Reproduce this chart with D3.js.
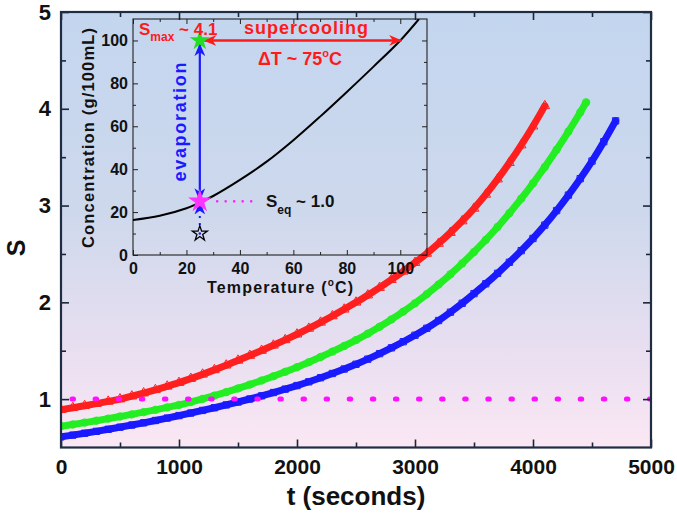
<!DOCTYPE html>
<html><head><meta charset="utf-8">
<script src="https://cdn.jsdelivr.net/npm/d3@7"></script>
<style>body{margin:0;background:#fff} svg{display:block;font-family:"Liberation Sans",Arial,sans-serif}</style>
</head><body><svg id="c" width="677" height="516"></svg>
<script>
// ---------- data ----------
const tSec = [0,100,200,300,400,500,600,700,800,900,1000,1100,1200,1300,1400,1500,1600,1700,1800,1900,2000,2100,2200,2300,2400,2500,2600,2700,2800,2900,3000,3100,3200,3300,3400,3500,3600,3700,3800,3900,4000,4100,4200,4300,4400,4500,4600,4700];
const redS = [0.890,0.910,0.931,0.953,0.976,1.000,1.030,1.062,1.096,1.132,1.170,1.212,1.256,1.302,1.350,1.400,1.450,1.502,1.556,1.612,1.670,1.730,1.793,1.859,1.928,2.000,2.074,2.152,2.234,2.320,2.410,2.505,2.608,2.720,2.840,2.970,3.115,3.273,3.443,3.625,3.820,4.030];
const greenS = [0.720,0.738,0.757,0.777,0.798,0.820,0.842,0.865,0.889,0.914,0.940,0.970,1.002,1.036,1.072,1.110,1.150,1.192,1.236,1.282,1.330,1.381,1.435,1.491,1.549,1.610,1.676,1.747,1.823,1.903,1.990,2.084,2.184,2.290,2.402,2.520,2.645,2.779,2.921,3.071,3.230,3.398,3.576,3.764,3.962,4.066];
const greenT = tSec.slice(0,45).concat([4450]);
const blueS = [0.610,0.628,0.647,0.667,0.688,0.710,0.732,0.755,0.779,0.804,0.830,0.856,0.883,0.911,0.940,0.970,1.001,1.034,1.068,1.103,1.140,1.179,1.221,1.265,1.311,1.360,1.413,1.470,1.530,1.593,1.660,1.732,1.812,1.898,1.990,2.090,2.192,2.300,2.414,2.534,2.660,2.798,2.948,3.108,3.278,3.460,3.660,3.875];
const sEq = 1.0;
const xTicks = [0,1000,2000,3000,4000,5000];
const xMinor = [500,1500,2500,3500,4500];
const yTicks = [1,2,3,4,5];
const yMinor = [1.5,2.5,3.5,4.5];
// inset: solubility curve
const tempC = [0,10,20,25,30,40,50,60,70,80,90,100,107];
const solubility = [16.3,18.3,21.8,24.5,27.5,35,43.5,53.5,64.5,76.0,87.8,100,110];
const insetTicks = [0,20,40,60,80,100];
const insetMinor = [10,30,50,70,90];
const roomT = 25, cEq = 25, cMax = 100, cStart = 10, tSuper = 100;

// ---------- setup ----------
const svg = d3.select('#c');
const defs = svg.append('defs');
const grad = defs.append('linearGradient').attr('id','bg').attr('x1',0).attr('y1',0).attr('x2',0).attr('y2',1);
[['0%','#c3d6ef'],['45%','#cdd8ec'],['75%','#e6def0'],['100%','#fbe7f4']].forEach(([o,c])=>grad.append('stop').attr('offset',o).attr('stop-color',c));

const x = d3.scaleLinear().domain([0,5000]).range([61,651]);
const y = d3.scaleLinear().domain([0.5,5]).range([447.5,12]);

defs.append('clipPath').attr('id','clipMain').append('rect')
  .attr('x',x(0)).attr('y',y(5)).attr('width',x(5000)-x(0)).attr('height',y(0.5)-y(5));

svg.append('rect').attr('x',x(0)).attr('y',y(5)).attr('width',x(5000)-x(0)).attr('height',y(0.5)-y(5)).attr('fill','url(#bg)');

// arrow markers
function mk(id,color){
  defs.append('marker').attr('id',id).attr('viewBox','0 0 12 10').attr('refX',11.5).attr('refY',5)
    .attr('markerWidth',13).attr('markerHeight',11).attr('markerUnits','userSpaceOnUse')
    .attr('orient','auto-start-reverse')
    .append('path').attr('d','M0,0 L12,5 L0,10 L3.5,5 Z').attr('fill',color);
}
mk('arrR','#ff1a1a'); mk('arrB','#1a1aff');

// ---------- main series ----------
const main = svg.append('g').attr('clip-path','url(#clipMain)');
const series = [
  {t:tSec.slice(0,redS.length), s:redS, color:'#ff1f1f', sym:d3.symbolTriangle, size:40},
  {t:greenT, s:greenS, color:'#22ee22', sym:d3.symbolCircle, size:44},
  {t:tSec.slice(0,blueS.length), s:blueS, color:'#1a1aff', sym:d3.symbolSquare, size:40}
];
const line = d3.line().x(d=>x(d[0])).y(d=>y(d[1])).curve(d3.curveMonotoneX);
series.forEach(se=>{
  const pts = se.t.map((t,i)=>[t,se.s[i]]);
  main.append('path').datum(pts).attr('d',line).attr('fill','none')
    .attr('stroke',se.color).attr('stroke-width',7).attr('stroke-linecap','round');
  main.selectAll(null).data(pts).enter().append('path')
    .attr('d',d3.symbol(se.sym,se.size))
    .attr('transform',d=>`translate(${x(d[0])},${y(d[1])})`)
    .attr('fill','none').attr('stroke',se.color).attr('stroke-width',1);
});

// S = 1 dotted line
main.append('line').attr('x1',x(0)).attr('x2',x(5000)).attr('y1',y(sEq)).attr('y2',y(sEq))
  .attr('stroke','#ff10ff').attr('stroke-width',5).attr('stroke-linecap','round')
  .attr('stroke-dasharray','1.5 21.6').attr('stroke-dashoffset',-11);

// ---------- main axes ----------
const axCol = '#1c2636';
function styleAxis(g, fs){
  g.select('.domain').remove();
  g.selectAll('line').attr('stroke',axCol).attr('stroke-width',1.6);
  g.selectAll('text').attr('font-size',fs).attr('font-weight','bold').attr('fill','#111')
    .attr('font-family','"Liberation Sans",Arial,sans-serif');
}
styleAxis(svg.append('g').attr('transform',`translate(0,${y(0.5)})`)
  .call(d3.axisBottom(x).tickValues(xTicks).tickSize(-8).tickPadding(12).tickFormat(d3.format('d'))), 21);
styleAxis(svg.append('g').attr('transform',`translate(0,${y(0.5)})`)
  .call(d3.axisBottom(x).tickValues(xMinor).tickSize(-5).tickFormat('')), 21);
styleAxis(svg.append('g').attr('transform',`translate(0,${y(5)})`)
  .call(d3.axisTop(x).tickValues(xTicks).tickSize(-8).tickFormat('')), 21);
styleAxis(svg.append('g').attr('transform',`translate(0,${y(5)})`)
  .call(d3.axisTop(x).tickValues(xMinor).tickSize(-5).tickFormat('')), 21);
styleAxis(svg.append('g').attr('transform',`translate(${x(0)},0)`)
  .call(d3.axisLeft(y).tickValues(yTicks).tickSize(-8).tickPadding(10).tickFormat(d3.format('d'))), 22);
styleAxis(svg.append('g').attr('transform',`translate(${x(0)},0)`)
  .call(d3.axisLeft(y).tickValues(yMinor).tickSize(-5).tickFormat('')), 22);
styleAxis(svg.append('g').attr('transform',`translate(${x(5000)},0)`)
  .call(d3.axisRight(y).tickValues(yTicks).tickSize(-8).tickFormat('')), 22);
styleAxis(svg.append('g').attr('transform',`translate(${x(5000)},0)`)
  .call(d3.axisRight(y).tickValues(yMinor).tickSize(-5).tickFormat('')), 22);

svg.append('rect').attr('x',x(0)).attr('y',y(5)).attr('width',x(5000)-x(0)).attr('height',y(0.5)-y(5))
  .attr('fill','none').attr('stroke','#1f2d44').attr('stroke-width',2.2);

svg.append('text').attr('x',(x(0)+x(5000))/2).attr('y',505).attr('text-anchor','middle')
  .attr('font-size',26).attr('font-weight','bold').attr('fill','#111').text('t (seconds)');
svg.append('text').attr('transform','translate(25,248) rotate(-90)').attr('text-anchor','middle')
  .attr('font-size',25).attr('font-weight','bold').attr('fill','#111').text('S');

// ---------- inset ----------
const xi = d3.scaleLinear().domain([0,110]).range([133,427]);
const yi = d3.scaleLinear().domain([0,110]).range([255,19]);
defs.append('clipPath').attr('id','clipIn').append('rect')
  .attr('x',xi(0)).attr('y',yi(110)).attr('width',xi(110)-xi(0)).attr('height',yi(0)-yi(110));
const ins = svg.append('g');

function styleIn(g){
  g.select('.domain').remove();
  g.selectAll('line').attr('stroke','#222').attr('stroke-width',1);
  g.selectAll('text').attr('font-size',16).attr('font-weight','bold').attr('fill','#111')
    .attr('font-family','"Liberation Sans",Arial,sans-serif');
}
styleIn(ins.append('g').attr('transform',`translate(0,${yi(0)})`)
  .call(d3.axisBottom(xi).tickValues(insetTicks).tickSize(-5).tickPadding(8)));
styleIn(ins.append('g').attr('transform',`translate(0,${yi(0)})`)
  .call(d3.axisBottom(xi).tickValues(insetMinor).tickSize(-3).tickFormat('')));
styleIn(ins.append('g').attr('transform',`translate(0,${yi(110)})`)
  .call(d3.axisTop(xi).tickValues(insetTicks).tickSize(-5).tickFormat('')));
styleIn(ins.append('g').attr('transform',`translate(0,${yi(110)})`)
  .call(d3.axisTop(xi).tickValues(insetMinor).tickSize(-3).tickFormat('')));
styleIn(ins.append('g').attr('transform',`translate(${xi(0)},0)`)
  .call(d3.axisLeft(yi).tickValues(insetTicks).tickSize(-5).tickPadding(5)));
styleIn(ins.append('g').attr('transform',`translate(${xi(0)},0)`)
  .call(d3.axisLeft(yi).tickValues(insetMinor).tickSize(-3).tickFormat('')));
styleIn(ins.append('g').attr('transform',`translate(${xi(110)},0)`)
  .call(d3.axisRight(yi).tickValues(insetTicks).tickSize(-5).tickFormat('')));
styleIn(ins.append('g').attr('transform',`translate(${xi(110)},0)`)
  .call(d3.axisRight(yi).tickValues(insetMinor).tickSize(-3).tickFormat('')));
ins.append('rect').attr('x',xi(0)).attr('y',yi(110)).attr('width',xi(110)-xi(0)).attr('height',yi(0)-yi(110))
  .attr('fill','none').attr('stroke','#222').attr('stroke-width',1.1);

const lineIn = d3.line().x((d,i)=>xi(tempC[i])).y(d=>yi(d)).curve(d3.curveCatmullRom);
ins.append('path').datum(solubility).attr('d',lineIn).attr('clip-path','url(#clipIn)')
  .attr('fill','none').attr('stroke','#000').attr('stroke-width',2);

// inset axis titles
const tl = ins.append('text').attr('x',(xi(0)+xi(110))/2).attr('y',293).attr('text-anchor','middle')
  .attr('font-size',16).attr('font-weight','bold').attr('fill','#111').attr('textLength',146).attr('lengthAdjust','spacing');
tl.append('tspan').text('Temperature (');
tl.append('tspan').attr('font-size',10).attr('dy',-7).text('o');
tl.append('tspan').attr('dy',7).text('C)');
ins.append('text').attr('transform','translate(94,138) rotate(-90)').attr('text-anchor','middle')
  .attr('font-size',16.5).attr('font-weight','bold').attr('fill','#111')
  .attr('textLength',220).attr('lengthAdjust','spacing').text('Concentration (g/100mL)');

// arrows
ins.append('line').attr('x1',xi(roomT)).attr('x2',xi(roomT)).attr('y1',yi(cEq+0.3)).attr('y2',yi(cMax-1.5))
  .attr('stroke','#1a1aff').attr('stroke-width',2.2)
  .attr('marker-start','url(#arrB)').attr('marker-end','url(#arrB)');
ins.append('line').attr('x1',xi(roomT)).attr('x2',xi(roomT)).attr('y1',yi(cStart+4)).attr('y2',yi(cEq-0.3))
  .attr('stroke','#1a1aff').attr('stroke-width',2).attr('stroke-dasharray','2 5')
  .attr('marker-end','url(#arrB)');
ins.append('line').attr('x1',xi(roomT+1.5)).attr('x2',xi(tSuper+0.5)).attr('y1',yi(cMax)).attr('y2',yi(cMax))
  .attr('stroke','#ff1a1a').attr('stroke-width',2.4)
  .attr('marker-start','url(#arrR)').attr('marker-end','url(#arrR)');
// magenta dotted from S_eq point
ins.append('line').attr('x1',xi(31.5)).attr('x2',xi(47)).attr('y1',yi(cEq)).attr('y2',yi(cEq))
  .attr('stroke','#ff22ff').attr('stroke-width',2.6).attr('stroke-linecap','round').attr('stroke-dasharray','0 8.5');

// stars
ins.append('path').attr('d',d3.symbol(d3.symbolStar,70)).attr('transform',`translate(${xi(roomT)},${yi(cStart)})`)
  .attr('fill','none').attr('stroke','#000').attr('stroke-width',1.3);
ins.append('circle').attr('cx',xi(roomT)).attr('cy',yi(cStart)).attr('r',1.3).attr('fill','#1a1aff');
ins.append('path').attr('d',d3.symbol(d3.symbolStar,170)).attr('transform',`translate(${xi(roomT)},${yi(cEq)})`)
  .attr('fill','#ff33ff');
ins.append('path').attr('d',d3.symbol(d3.symbolStar,130)).attr('transform',`translate(${xi(roomT)},${yi(cMax)})`)
  .attr('fill','#22dd22');

// annotations
const sm = ins.append('text').attr('x',139).attr('y',35).attr('fill','#ff1a1a').attr('font-weight','bold').attr('font-size',17);
sm.append('tspan').text('S');
sm.append('tspan').attr('font-size',12).attr('dy',6).text('max');
sm.append('tspan').attr('dy',-6).text(' ~ 4.1');
ins.append('text').attr('x',244).attr('y',34).attr('fill','#ff1a1a').attr('font-weight','bold').attr('font-size',18)
  .attr('textLength',124).attr('lengthAdjust','spacing').text('supercooling');
const dt = ins.append('text').attr('x',300).attr('y',65).attr('text-anchor','middle').attr('fill','#ff1a1a')
  .attr('font-weight','bold').attr('font-size',18);
dt.append('tspan').text('\u0394T ~ 75');
dt.append('tspan').attr('font-size',11).attr('dy',-8).text('o');
dt.append('tspan').attr('dy',8).text('C');
ins.append('text').attr('transform','translate(186,122) rotate(-90)').attr('text-anchor','middle')
  .attr('fill','#1a1aff').attr('font-weight','bold').attr('font-size',18)
  .attr('textLength',119).attr('lengthAdjust','spacing').text('evaporation');
const se = ins.append('text').attr('x',266).attr('y',207).attr('fill','#111').attr('font-weight','bold').attr('font-size',17);
se.append('tspan').text('S');
se.append('tspan').attr('font-size',12).attr('dy',7).text('eq');
se.append('tspan').attr('dy',-7).text(' ~ 1.0');
</script></body></html>
